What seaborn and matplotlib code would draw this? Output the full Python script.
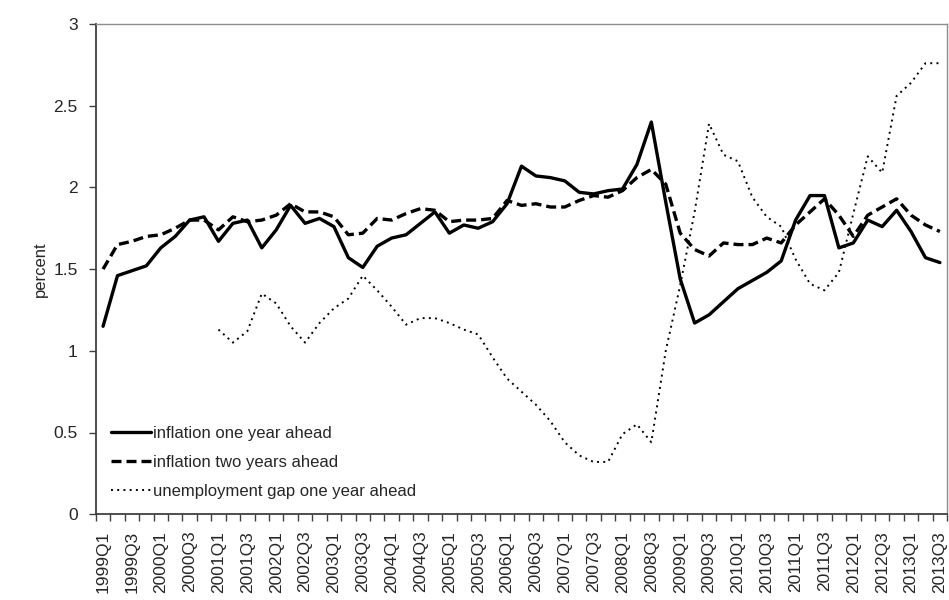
import numpy as np
import pandas as pd
import matplotlib.pyplot as plt
import seaborn as sns

# quarters 1999Q1 .. 2013Q3
quarters = [f"{y}Q{q}" for y in range(1999, 2014) for q in range(1, 5)][:59]

infl_1y = [1.15, 1.46, 1.49, 1.52, 1.63, 1.70, 1.80, 1.82, 1.67, 1.78,
           1.80, 1.63, 1.74, 1.89, 1.78, 1.81, 1.76, 1.57, 1.51, 1.64,
           1.69, 1.71, 1.78, 1.85, 1.72, 1.77, 1.75, 1.79, 1.90, 2.13,
           2.07, 2.06, 2.04, 1.97, 1.96, 1.98, 1.99, 2.14, 2.40, 1.91,
           1.44, 1.17, 1.22, 1.30, 1.38, 1.43, 1.48, 1.55, 1.80, 1.95,
           1.95, 1.63, 1.66, 1.80, 1.76, 1.86, 1.73, 1.57, 1.54]

infl_2y = [1.50, 1.65, 1.67, 1.70, 1.71, 1.75, 1.80, 1.80, 1.74, 1.82,
           1.79, 1.80, 1.83, 1.90, 1.85, 1.85, 1.82, 1.71, 1.72, 1.81,
           1.80, 1.84, 1.87, 1.86, 1.79, 1.80, 1.80, 1.81, 1.92, 1.89,
           1.90, 1.88, 1.88, 1.92, 1.95, 1.94, 1.98, 2.06, 2.11, 2.02,
           1.72, 1.62, 1.58, 1.66, 1.65, 1.65, 1.69, 1.66, 1.77, 1.85,
           1.93, 1.83, 1.70, 1.83, 1.88, 1.93, 1.83, 1.77, 1.73]

unemp_gap = [np.nan] * 8 + [
    1.13, 1.05, 1.12, 1.35, 1.29, 1.15, 1.05, 1.17, 1.26, 1.32,
    1.46, 1.37, 1.27, 1.16, 1.20, 1.20, 1.17, 1.13, 1.10, 0.96,
    0.83, 0.75, 0.67, 0.57, 0.44, 0.36, 0.32, 0.32, 0.49, 0.55,
    0.44, 1.00, 1.40, 1.85, 2.39, 2.20, 2.16, 1.94, 1.82, 1.76,
    1.56, 1.41, 1.37, 1.48, 1.84, 2.19, 2.09, 2.56, 2.64, 2.76,
    2.76]

df = pd.DataFrame({
    "idx": np.arange(len(quarters)),
    "infl_1y": infl_1y,
    "infl_2y": infl_2y,
    "unemp_gap": unemp_gap,
})

sns.set_style("white")
plt.rcParams["font.family"] = ["Liberation Sans", "DejaVu Sans"]

fig, ax = plt.subplots(figsize=(9.49, 6.0), dpi=100)
fig.subplots_adjust(left=0.101, right=0.998, top=0.96, bottom=0.143)

sns.lineplot(data=df, x="idx", y="infl_1y", ax=ax, color="black", lw=2.4,
             label="inflation one year ahead")
sns.lineplot(data=df, x="idx", y="infl_2y", ax=ax, color="black", lw=2.4,
             linestyle=(0, (3, 1.5)), label="inflation two years ahead")
sns.lineplot(data=df, x="idx", y="unemp_gap", ax=ax, color="black", lw=1.4,
             linestyle=(0, (1, 2.2)), label="unemployment gap one year ahead")

ax.set_xlim(-0.5, len(quarters) - 0.5)
ax.set_ylim(0, 3)
ax.set_yticks(np.arange(0, 3.01, 0.5))
ax.set_yticklabels(["0", "0.5", "1", "1.5", "2", "2.5", "3"])
ax.set_xticks(np.arange(0, len(quarters), 2))
ax.set_xticklabels(quarters[::2], rotation=90)
ax.set_xticks(np.arange(-0.5, len(quarters), 1), minor=True)
ax.tick_params(axis="x", which="major", length=0, pad=12, labelsize=12.5)
ax.tick_params(axis="x", which="minor", length=5, direction="out",
               color="#404040", width=1, bottom=True)
ax.tick_params(axis="y", length=5, direction="out", color="#404040",
               width=1, labelsize=12.5, left=True, pad=8)
ax.set_xlabel("")
ax.set_ylabel("percent", fontsize=12, labelpad=4)

for side in ["left", "bottom"]:
    ax.spines[side].set_color("#404040")
    ax.spines[side].set_linewidth(1.3)
for side in ["top", "right"]:
    ax.spines[side].set_color("#8c8c8c")
    ax.spines[side].set_linewidth(1.0)

ax.legend(loc="lower left", frameon=False, fontsize=12, handlelength=2.4,
          handletextpad=0.1, labelspacing=0.85, bbox_to_anchor=(0.0, 0.0))

fig.savefig("out.png", dpi=100)
